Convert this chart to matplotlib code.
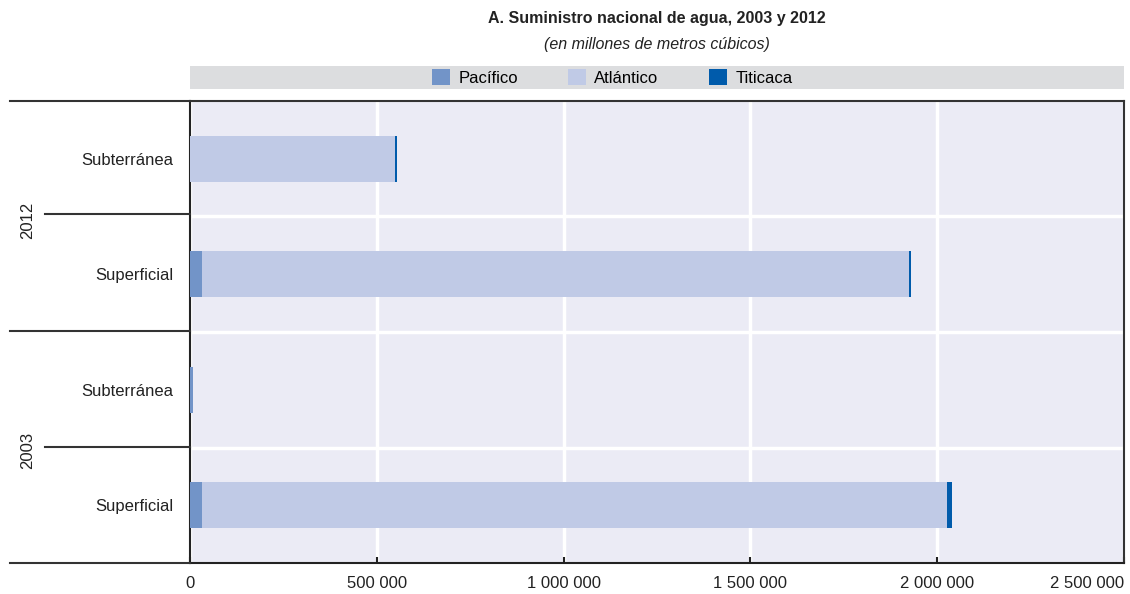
import numpy as np
import matplotlib.pyplot as plt
from matplotlib.lines import Line2D
from matplotlib.patches import Rectangle
from matplotlib.ticker import FuncFormatter

plt.rcParams['font.family'] = ['Liberation Sans Narrow', 'Liberation Sans', 'DejaVu Sans']

# rows from bottom to top
years = ['2003', '2003', '2012', '2012']
sources = ['Superficial', 'Subterránea', 'Superficial', 'Subterránea']
pacifico = [32000, 7000, 32000, 1000]
atlantico = [1994000, 0, 1893000, 547000]
titicaca = [13000, 0, 5000, 5000]
series_names = ['Pacífico', 'Atlántico', 'Titicaca']
colors = ['#7294c8', '#c0cae6', '#005bab']
xticks = [0, 500000, 1000000, 1500000, 2000000, 2500000]

W, H = 1130, 594
fig = plt.figure(figsize=(W / 100, H / 100), dpi=100)
ax = fig.add_axes([190 / W, 1 - 563 / H, (1124 - 190) / W, (563 - 101) / H])
ax.set_facecolor('#ebebf5')

y = np.arange(len(sources))
left = np.zeros(len(sources))
for vals, name, c in zip([pacifico, atlantico, titicaca], series_names, colors):
    ax.barh(y, vals, left=left, height=0.4, color=c, label=name, zorder=3)
    left += np.array(vals)

ax.set_xlim(0, 2500000)
ax.set_ylim(-0.5, 3.5)
ax.set_xticks(xticks)
ax.xaxis.set_major_formatter(FuncFormatter(lambda v, p: f'{int(v):,}'.replace(',', ' ')))
ax.set_yticks(y)
ax.set_yticklabels(sources)
ax.set_yticks([0.5, 1.5, 2.5], minor=True)
ax.tick_params(axis='y', which='both', length=0, labelsize=12, pad=12, colors='#222222')
ax.tick_params(axis='x', direction='in', length=4, width=1.5, color='#222222', labelsize=12, pad=9, labelcolor='#222222')
# last label sits flush with the right edge
ax.get_xticklabels()[-1].set_horizontalalignment('right')
ax.grid(axis='x', which='major', color='white', lw=2.5, zorder=1)
ax.grid(axis='y', which='minor', color='white', lw=2.5, zorder=1)
for s in ['left', 'bottom']:
    ax.spines[s].set_color('#222222')
    ax.spines[s].set_linewidth(1.5)
for s in ['top', 'right']:
    ax.spines[s].set_color('#333333')
    ax.spines[s].set_linewidth(1.5)

# group lines on the left
for ypx, x0 in [(101, 10), (214, 45), (331, 10), (447, 45), (563, 10)]:
    fig.add_artist(Line2D([x0 / W, 190 / W], [1 - ypx / H, 1 - ypx / H], color='#333333', lw=1.5))
for label, ypx in [('2012', 220), ('2003', 450)]:
    fig.text(28 / W, 1 - ypx / H, label, rotation=90, ha='center', va='center', fontsize=12, color='#222222')

# title
fig.text(657 / W, 1 - 19 / H, 'A. Suministro nacional de agua, 2003 y 2012', ha='center', va='center',
         fontsize=11.5, fontweight='bold', color='#222222')
fig.text(657 / W, 1 - 45 / H, '(en millones de metros cúbicos)', ha='center', va='center',
         fontsize=11.5, style='italic', color='#222222')

# legend band
fig.add_artist(Rectangle((190 / W, 1 - 89 / H), (1124 - 190) / W, 23 / H, transform=fig.transFigure,
                         facecolor='#dcdddf', edgecolor='none', zorder=0))
fig.legend(loc='center', bbox_to_anchor=(612 / W, 1 - 77.5 / H), ncol=3, frameon=False,
           fontsize=12, handlelength=1.1, handleheight=1.1, columnspacing=3.0, handletextpad=0.5,
           borderpad=0)

fig.savefig('out.png', dpi=100)
